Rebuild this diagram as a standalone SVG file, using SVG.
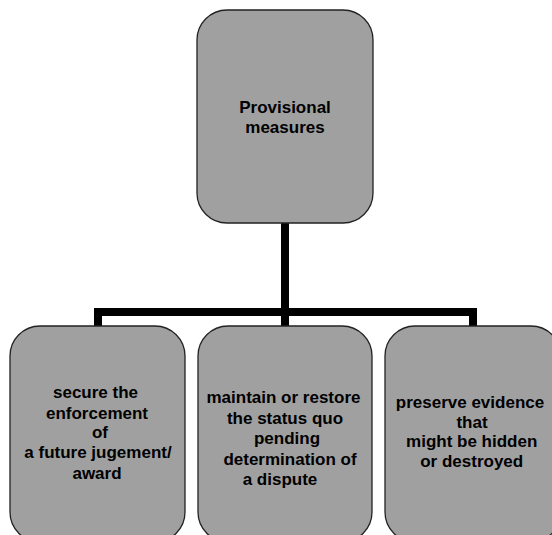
<svg xmlns="http://www.w3.org/2000/svg" width="552" height="535" viewBox="0 0 552 535">
<style>
.box{fill:#a0a0a0;stroke:#222;stroke-width:1.3}
.t{font-family:"Liberation Sans",Arial,sans-serif;font-weight:bold;font-size:17px;fill:#000;text-anchor:middle}
.c{fill:none;stroke:#000;stroke-width:8;stroke-linejoin:miter;stroke-linecap:butt}
</style>
<rect width="552" height="535" fill="#fff"/>
<g id="connectors">
<path class="c" d="M285 223 V326"/>
<path class="c" d="M98 326 V312 H473 V326"/>
</g>
<g id="node-root">
<rect class="box" x="197" y="10" width="176" height="213" rx="30" ry="30"/>
<text class="t" x="285" y="113">Provisional</text>
<text class="t" x="285" y="133">measures</text>
</g>
<g id="node-enforcement">
<rect class="box" x="10" y="326" width="175" height="216" rx="30" ry="30"/>
<text class="t" x="95.5" y="398">secure the</text>
<text class="t" x="97" y="419">enforcement</text>
<text class="t" x="100" y="438">of</text>
<text class="t" x="98" y="458">a future jugement/</text>
<text class="t" x="97" y="479">award</text>
</g>
<g id="node-status-quo">
<rect class="box" x="198" y="326" width="174" height="216" rx="30" ry="30"/>
<text class="t" x="283.5" y="403">maintain or restore</text>
<text class="t" x="285" y="423.5">the status quo</text>
<text class="t" x="287" y="443.5">pending</text>
<text class="t" x="290" y="464.5">determination of</text>
<text class="t" x="280" y="484.5">a dispute</text>
</g>
<g id="node-evidence">
<rect class="box" x="385" y="326" width="176" height="216" rx="30" ry="30"/>
<text class="t" x="470" y="408">preserve evidence</text>
<text class="t" x="472" y="427.5">that</text>
<text class="t" x="471.7" y="447">might be hidden</text>
<text class="t" x="471.7" y="466.5">or destroyed</text>
</g>
</svg>
